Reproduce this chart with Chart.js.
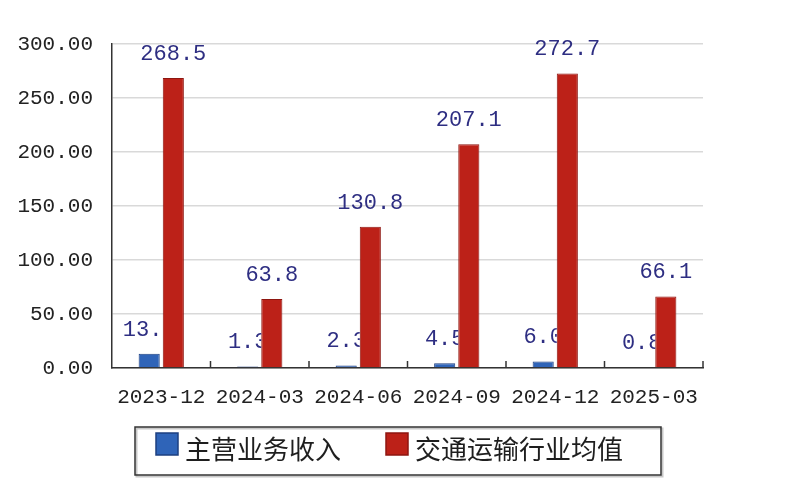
<!DOCTYPE html>
<html>
<head>
<meta charset="utf-8">
<script src="https://cdn.jsdelivr.net/npm/chart.js@4/dist/chart.umd.min.js"></script>
<style>
  html, body { margin: 0; padding: 0; background: #fff; }
  #wrap { width: 800px; height: 500px; }
</style>
</head>
<body>
<div id="wrap"><canvas id="chart" width="800" height="500"></canvas></div>
<script>
// Data
const periods = ['2023-12', '2024-03', '2024-06', '2024-09', '2024-12', '2025-03'];
const mainRevenue = [13.1, 1.3, 2.3, 4.5, 6.0, 0.8];
const industryAvg = [268.5, 63.8, 130.8, 207.1, 272.7, 66.1];
const seriesNames = ['主营业务收入', '交通运输行业均值'];
const yTicks = [0, 50, 100, 150, 200, 250, 300];

const monoFont = '"Liberation Mono", "DejaVu Sans Mono", monospace';
const cjkFont = '"Noto Sans CJK SC", sans-serif';

function drawValues(ctx, meta, values) {
    ctx.font = '22px ' + monoFont;
    ctx.fillStyle = '#2e2e82';
    ctx.textAlign = 'center';
    ctx.textBaseline = 'bottom';
    meta.data.forEach((bar, i) => {
        ctx.fillText(values[i].toFixed(1), bar.x, bar.y - 13);
    });
}

// value labels; the blue ones sit behind the red bars like in the original
const barLabels = {
    id: 'barLabels',
    afterDatasetsDraw(chart) {
        const ctx = chart.ctx;
        const blueMeta = chart.getDatasetMeta(0);
        const redMeta = chart.getDatasetMeta(1);

        ctx.save();
        ctx.beginPath();
        ctx.rect(0, 0, chart.width, chart.height);
        redMeta.data.forEach(b => {
            ctx.rect(b.x - b.width / 2, b.y, b.width, b.base - b.y);
        });
        ctx.clip('evenodd');
        drawValues(ctx, blueMeta, chart.data.datasets[0].data);
        ctx.restore();

        ctx.save();
        drawValues(ctx, redMeta, chart.data.datasets[1].data);
        ctx.restore();
    }
};

// small upward ticks at category boundaries
const boundaryTicks = {
    id: 'boundaryTicks',
    afterDraw(chart) {
        const x = chart.scales.x;
        const ctx = chart.ctx;
        const bottom = chart.chartArea.bottom;
        ctx.save();
        ctx.strokeStyle = '#333';
        ctx.lineWidth = 1.5;
        for (let i = 1; i <= periods.length; i++) {
            const px = i < periods.length
                ? (x.getPixelForTick(i - 1) + x.getPixelForTick(i)) / 2
                : chart.chartArea.right;
            ctx.beginPath();
            ctx.moveTo(px, bottom);
            ctx.lineTo(px, bottom - 7);
            ctx.stroke();
        }
        ctx.restore();
    }
};

// boxed legend under the axis
const boxedLegend = {
    id: 'boxedLegend',
    afterDraw(chart) {
        const ctx = chart.ctx;
        const area = chart.chartArea;
        const top = area.bottom + 59;
        const h = 48;
        const left = 135;
        const sw = 22;
        ctx.save();
        ctx.font = '26px ' + cjkFont;
        ctx.textBaseline = 'middle';
        ctx.textAlign = 'left';
        let x = left + 21;
        chart.data.datasets.forEach((ds, i) => {
            ctx.fillStyle = ds.backgroundColor;
            ctx.fillRect(x, top + 6, sw, sw);
            ctx.strokeStyle = ds.borderColor;
            ctx.lineWidth = 1.5;
            ctx.strokeRect(x, top + 6, sw, sw);
            x += sw + 7;
            ctx.fillStyle = '#1e1e1e';
            ctx.fillText(ds.label, x, top + 22);
            x += ctx.measureText(ds.label).width;
            if (i < chart.data.datasets.length - 1) x += 45;
        });
        const right = x + 38;
        ctx.strokeStyle = '#c8c8c8';
        ctx.lineWidth = 2;
        ctx.strokeRect(left + 1.5, top + 1.5, right - left, h);
        ctx.strokeStyle = '#333';
        ctx.lineWidth = 1.5;
        ctx.strokeRect(left, top, right - left, h);
        ctx.restore();
    }
};

const ctx = document.getElementById('chart').getContext('2d');
const chart = new Chart(ctx, {
    type: 'bar',
    data: {
        labels: periods,
        datasets: [
            {
                label: seriesNames[0],
                data: mainRevenue,
                backgroundColor: '#2f64b8',
                borderColor: '#1d3f80',
                borderWidth: 1
            },
            {
                label: seriesNames[1],
                data: industryAvg,
                backgroundColor: '#bc2118',
                borderColor: '#8e1610',
                borderWidth: 1
            }
        ]
    },
    options: {
        responsive: false,
        animation: false,
        devicePixelRatio: 1,
        categoryPercentage: 0.49,
        barPercentage: 0.875,
        layout: {
            padding: { top: 44, right: 97, bottom: 75, left: 0 }
        },
        scales: {
            x: {
                grid: { display: false, drawTicks: false },
                border: { display: true, color: '#333', width: 1.5 },
                ticks: {
                    padding: 17,
                    color: '#222',
                    font: { family: monoFont, size: 21 }
                },
                afterFit: s => { s.height = 57; }
            },
            y: {
                min: 0,
                max: 300,
                afterBuildTicks: s => { s.ticks = yTicks.map(v => ({ value: v })); },
                grid: { color: '#d9d9d9', lineWidth: 1.5, drawTicks: false },
                border: { display: true, color: '#333', width: 1.5 },
                ticks: {
                    padding: 19,
                    color: '#222',
                    font: { family: monoFont, size: 21 },
                    callback: v => Number(v).toFixed(2)
                },
                afterFit: s => { s.width = 112; }
            }
        },
        plugins: {
            legend: { display: false },
            tooltip: { enabled: false }
        }
    },
    plugins: [barLabels, boundaryTicks, boxedLegend]
});
</script>
</body>
</html>
